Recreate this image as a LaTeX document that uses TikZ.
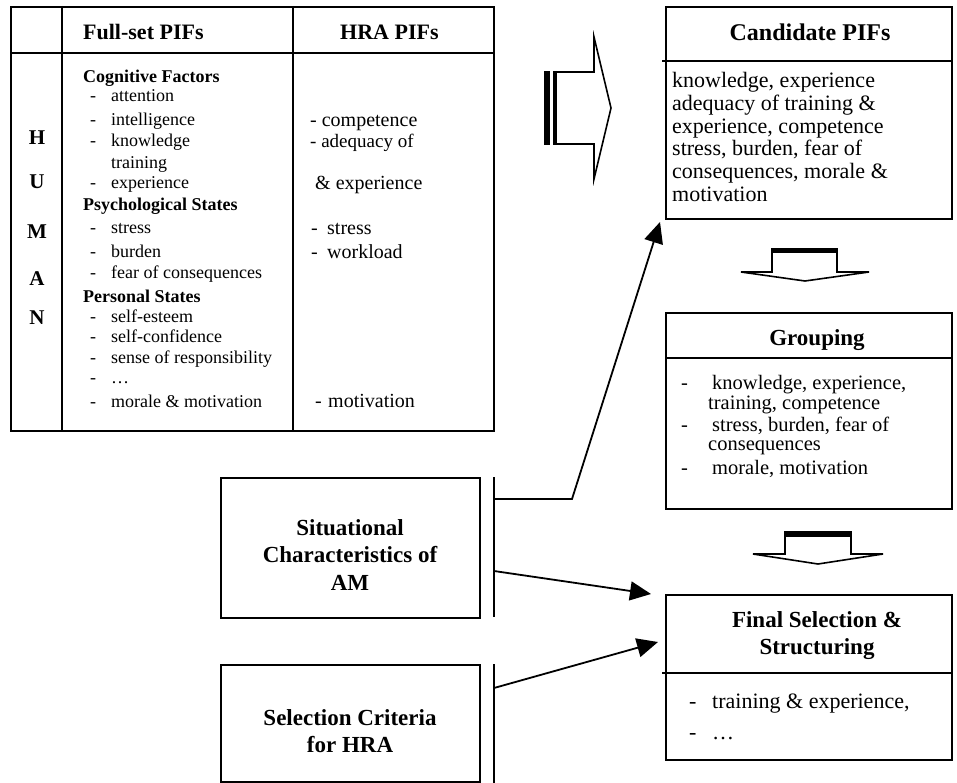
\documentclass[tikz,border=0pt]{standalone}
\usepackage{fontspec}
\setmainfont{Liberation Serif}
\usetikzlibrary{arrows.meta}
\begin{document}
\begin{tikzpicture}[x=1pt,y=-1pt,line join=miter,
  box/.style={draw,line width=2pt,inner sep=0pt,anchor=north west},
  lt/.style={inner sep=0pt,anchor=base west},
  ct/.style={inner sep=0pt,anchor=base},
  fs/.style={font=\fontsize{18}{20}\selectfont},
  fsb/.style={font=\fontsize{18}{20}\selectfont\bfseries},
  fh/.style={font=\fontsize{20}{22}\selectfont},
  fha/.style={font=\fontsize{19}{22}\selectfont},
  fhead/.style={font=\fontsize{22}{24}\selectfont\bfseries},
  fhum/.style={font=\fontsize{21}{24}\selectfont\bfseries},
  fbody/.style={font=\fontsize{22}{23}\selectfont},
  fgrp/.style={font=\fontsize{20.5}{22}\selectfont},
  fcand/.style={font=\fontsize{24}{27}\selectfont\bfseries},
  ftitle/.style={font=\fontsize{23}{26}\selectfont\bfseries},
  arr/.style={line width=1.8pt,-{Triangle[length=21pt,width=19pt]}},
  blk/.style={line width=1.6pt}]
\useasboundingbox (0,0) rectangle (957,783);
\fill[white] (0,0) rectangle (957,783);

% ---------- table ----------
\node[box,minimum width=483pt,minimum height=424pt] (tbl) at (10,6) {};
\draw[line width=2pt] (10,53) -- (493,53);
\draw[line width=2pt] (62,6) -- (62,430);
\draw[line width=2pt] (293,6) -- (293,430);
\node[lt,fhead] (hfull) at (83,39.5) {Full-set PIFs};
\node[lt,fhead] (hhra) at (340,39.5) {HRA PIFs};

\foreach \y/\l [count=\i] in {145/H,189/U,239/M,285/A,324/N}
  \node[ct,fhum] (hum\i) at (37,\y) {\l};

\node[lt,fsb] (cat1) at (83,83) {Cognitive Factors};
\node[lt,fsb] (cat2) at (83,211) {Psychological States};
\node[lt,fsb] (cat3) at (83,302) {Personal States};
\foreach \y/\t [count=\i] in {102/attention,126/intelligence,147/knowledge,189/experience,
   234/stress,258/burden,279/fear of consequences,322/self-esteem,342/self-confidence,
   363/sense of responsibility,383/\ldots,407/morale \& motivation}
  {\node[lt,fs] (d\i) at (90,\y) {-};
   \node[lt,fs] (it\i) at (111,\y) {\t};}
\node[lt,fs] (ittr) at (111,169) {training};

\node[lt,fh] (hr1) at (310,126.5) {- competence};
\node[lt,fha] (hr2) at (310,147.5) {- adequacy of};
\node[lt,fh] (hr3) at (315,189.5) {\& experience};
\node[lt,fh] (hr4d) at (311,234.5) {-};
\node[lt,fh] (hr4) at (327,234.5) {stress};
\node[lt,fh] (hr5d) at (311,258.5) {-};
\node[lt,fh] (hr5) at (327,258.5) {workload};
\node[lt,fh] (hr6d) at (315,407.5) {-};
\node[lt,fh] (hr6) at (328,407.5) {motivation};

% ---------- big right arrow ----------
\fill (544,71) rectangle (550,145);
\draw[line width=3.5pt] (555,71) -- (555,145);
\draw[blk] (555,72) -- (594,72) -- (594,37) -- (611,108) -- (594,179) -- (594,144) -- (555,144);

% ---------- Candidate PIFs ----------
\node[box,minimum width=286pt,minimum height=212pt] (cand) at (665,6) {};
\draw[line width=2pt] (662,61) -- (951,61);
\node[ct,fcand] (candt) at (810,41) {Candidate PIFs};
\foreach \y/\t [count=\i] in {88/{knowledge, experience},111/{adequacy of training \&},
   134/{experience, competence},156/{stress, burden, fear of},179/{consequences, morale \&},
   202/motivation}
  \node[lt,fbody] (cb\i) at (672,\y) {\t};

% ---------- arrow A ----------
\fill (771,248) rectangle (838,253);
\draw[blk] (772,250) -- (772,272) -- (741,272) -- (805,281) -- (869,272) -- (837,272) -- (837,250);

% ---------- Grouping ----------
\node[box,minimum width=286pt,minimum height=196pt] (grp) at (665,312) {};
\draw[line width=2pt] (665,358) -- (951,358);
\node[ct,ftitle] (grpt) at (817,345.5) {Grouping};
\node[lt,fgrp] (gd1) at (681,389) {-};
\node[lt,fgrp] (g1) at (712,389) {knowledge, experience,};
\node[lt,fgrp] (g1b) at (708,409) {training, competence};
\node[lt,fgrp] (gd2) at (681,431) {-};
\node[lt,fgrp] (g2) at (712,431) {stress, burden, fear of};
\node[lt,fgrp] (g2b) at (708,450) {consequences};
\node[lt,fgrp] (gd3) at (681,474) {-};
\node[lt,fgrp] (g3) at (712,474) {morale, motivation};

% ---------- arrow B ----------
\fill (784,531) rectangle (852,537);
\draw[blk] (785,534) -- (785,554) -- (753,554) -- (818,564) -- (883,554) -- (851,554) -- (851,534);

% ---------- Final Selection ----------
\node[box,minimum width=286pt,minimum height=165pt] (fin) at (665,594) {};
\draw[line width=2pt] (662,673) -- (951,673);
\node[ct,ftitle] (fint1) at (817,627.5) {Final Selection \&};
\node[ct,ftitle] (fint2) at (817,654.5) {Structuring};
\node[lt,fbody] (fd1) at (689,708) {-};
\node[lt,fbody] (f1) at (712,708) {training \& experience,};
\node[lt,fbody] (fd2) at (689,739) {-};
\node[lt,fbody] (f2) at (712,739) {\ldots};

% ---------- left boxes ----------
\node[box,minimum width=259pt,minimum height=140pt] (sit) at (220,477) {};
\node[ct,ftitle] (sit1) at (350,535.5) {Situational};
\node[ct,ftitle] (sit2) at (350,562.5) {Characteristics of};
\node[ct,ftitle] (sit3) at (350,590.5) {AM};
\node[box,minimum width=259pt,minimum height=117pt] (sel) at (220,664) {};
\node[ct,ftitle] (sel1) at (350,725.5) {Selection Criteria};
\node[ct,ftitle] (sel2) at (350,752.5) {for HRA};

\draw[line width=2pt] (494,477) -- (494,617);
\draw[line width=2pt] (494,664) -- (494,783);
\coordinate (s1) at (494,499);
\coordinate (s2) at (494,571);
\coordinate (s3) at (494,688);

% ---------- connectors ----------
\draw[arr] (s1) -- ++(78,0) -- ([shift={(-5,2)}]cand.south west);
\draw[arr] (s2) -- ([shift={(-14,0)}]fin.north west);
\draw[arr] (s3) -- ([shift={(-7,48)}]fin.north west);
\end{tikzpicture}
\end{document}
